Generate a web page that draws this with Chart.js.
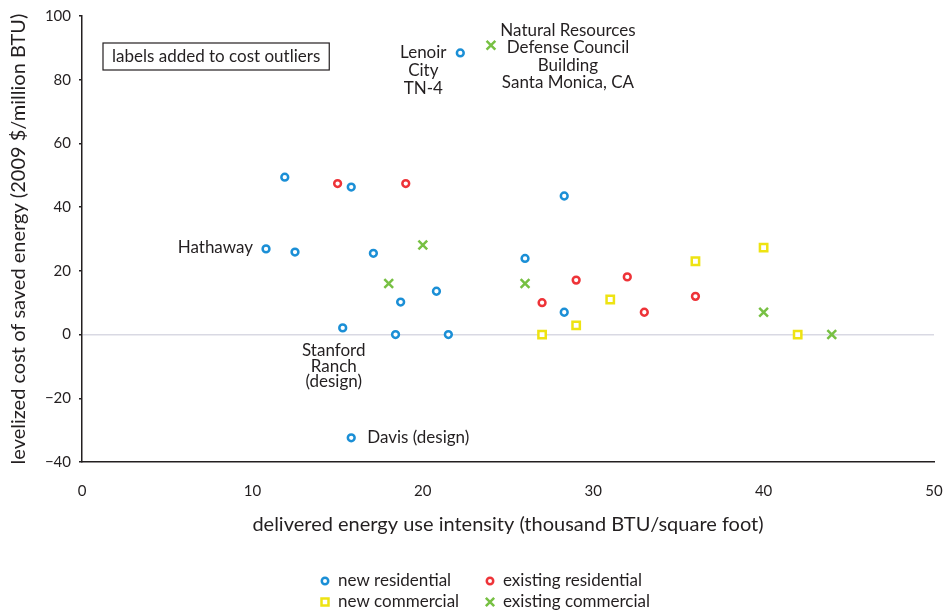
<!DOCTYPE html>
<html>
<head>
<meta charset="utf-8">
<script src="https://cdn.jsdelivr.net/npm/chart.js@4.4.1/dist/chart.umd.min.js"></script>
<style>
  html, body { margin: 0; padding: 0; background: #ffffff; }
  #wrap { position: relative; width: 944px; height: 611px; }
</style>
</head>
<body>
<div id="wrap"><canvas id="c" width="944" height="611"></canvas></div>
<script>
// ---- data ----
const seriesNames = ["new residential", "existing residential", "new commercial", "existing commercial"];

const newResidentialX = [22.2, 11.9, 15.8, 28.3, 10.8, 12.5, 17.1, 26.0, 20.8, 18.7, 15.3, 18.4, 21.5, 28.3, 15.8];
const newResidentialY = [88.4, 49.4, 46.3, 43.5, 26.9, 25.9, 25.5, 23.9, 13.6, 10.2, 2.1, 0, 0, 7.0, -32.4];

const existingResidentialX = [15.0, 19.0, 29.0, 32.0, 27.0, 33.0, 36.0];
const existingResidentialY = [47.4, 47.4, 17.1, 18.1, 10.0, 7.0, 12.0];

const newCommercialX = [36, 40, 31, 27, 29, 42];
const newCommercialY = [23.0, 27.3, 11.0, 0, 2.9, 0];

const existingCommercialX = [24, 20, 18, 26, 40, 44];
const existingCommercialY = [90.8, 28.1, 16.0, 16.0, 7.0, 0];

const xTicks = [0, 10, 20, 30, 40, 50];
const yTicks = [-40, -20, 0, 20, 40, 60, 80, 100];

const xTitle = "delivered energy use intensity (thousand BTU/square foot)";
const yTitle = "levelized cost of saved energy (2009 $/million BTU)";
const noteBoxText = "labels added to cost outliers";

// outlier labels: which series / point, and the text lines
const outlierSeries = [3, 0, 0, 0, 0];
const outlierIndex  = [0, 0, 4, 10, 14];
const outlierText = [
  ["Natural Resources", "Defense Council", "Building", "Santa Monica, CA"],
  ["Lenoir", "City", "TN-4"],
  ["Hathaway"],
  ["Stanford", "Ranch", "(design)"],
  ["Davis (design)"]
];

// ---- styling (not data) ----
const FONT = "Lato";
const TEXT = "#231f20";
const colors = ["#1b8fd6", "#ee3338", "#eee312", "#77c043"];
const styles = ["circle", "circle", "rect", "crossRot"];
const radii = [3.4, 3.4, 5.2, 6.2];
// label placement relative to its point: [dx, dy, align, lineHeight]
const outlierPlace = [
  [77, -15, "center", 17.5],
  [-37, 0, "center", 18],
  [-13, -1, "right", 18],
  [-9, 23, "center", 15.5],
  [16, 0, "left", 18]
];

function pts(xs, ys) { return xs.map((x, i) => ({ x: x, y: ys[i] })); }
const seriesData = [
  pts(newResidentialX, newResidentialY),
  pts(existingResidentialX, existingResidentialY),
  pts(newCommercialX, newCommercialY),
  pts(existingCommercialX, existingCommercialY)
];

const datasets = seriesData.map((d, i) => ({
  label: seriesNames[i],
  data: d,
  pointStyle: styles[i],
  pointRadius: radii[i],
  pointHoverRadius: radii[i],
  borderColor: colors[i],
  backgroundColor: "#ffffff",
  pointBorderWidth: 2.5,
  borderWidth: 2.5
}));

const annotationPlugin = {
  id: "annotations",
  afterDatasetsDraw(chart) {
    const ctx = chart.ctx;
    const xs = chart.scales.x, ys = chart.scales.y;
    ctx.save();
    ctx.fillStyle = TEXT;
    ctx.font = "17px " + FONT;
    ctx.textBaseline = "middle";
    outlierText.forEach((lines, k) => {
      const p = seriesData[outlierSeries[k]][outlierIndex[k]];
      const px = xs.getPixelForValue(p.x), py = ys.getPixelForValue(p.y);
      const [dx, dy, align, lh] = outlierPlace[k];
      ctx.textAlign = align;
      lines.forEach((t, j) => ctx.fillText(t, px + dx, py + dy + j * lh));
    });
    // note box
    ctx.font = "17px " + FONT;
    ctx.textAlign = "left";
    const bx = chart.chartArea.left + 21, by = chart.chartArea.top + 27;
    const tw = ctx.measureText(noteBoxText).width;
    ctx.strokeStyle = "#231f20";
    ctx.lineWidth = 1.2;
    ctx.strokeRect(bx, by, tw + 18, 27);
    ctx.fillText(noteBoxText, bx + 9, by + 14);
    ctx.restore();
  },
  afterDraw(chart) {
    // two-column legend below the x-axis title
    const ctx = chart.ctx;
    const cx = chart.width / 2;
    const colX = [cx - 147, cx + 18];
    const rowY = [581, 602];
    const order = [0, 1, 2, 3];
    ctx.save();
    ctx.font = "17px " + FONT;
    ctx.textBaseline = "middle";
    ctx.textAlign = "left";
    order.forEach((si, k) => {
      const x = colX[k % 2], y = rowY[Math.floor(k / 2)];
      ctx.strokeStyle = colors[si];
      ctx.fillStyle = "#ffffff";
      ctx.lineWidth = 2.5;
      Chart.helpers.drawPoint(ctx, { pointStyle: styles[si], radius: radii[si] * 0.95, rotation: 0, borderWidth: 2.5 }, x, y);
      ctx.fillStyle = TEXT;
      ctx.fillText(seriesNames[si], x + 13, y);
    });
    ctx.restore();
  }
};

new Chart(document.getElementById("c"), {
  type: "scatter",
  data: { datasets: datasets },
  options: {
    responsive: false,
    animation: false,
    layout: { padding: { top: 16, right: 10, left: 0, bottom: 0 } },
    plugins: {
      legend: { display: false },
      tooltip: { enabled: false }
    },
    scales: {
      x: {
        type: "linear",
        min: 0, max: 50,
        afterBuildTicks: s => { s.ticks = xTicks.map(v => ({ value: v })); },
        afterFit: s => { s.height = 149; s.paddingLeft = 0; s.paddingRight = 0; },
        grid: { display: false },
        border: { display: true, color: "#231f20", width: 1.5 },
        ticks: { font: { family: FONT, size: 15 }, color: TEXT, padding: 12 },
        title: { display: true, text: xTitle, font: { family: FONT, size: 20 }, color: TEXT, padding: { top: 0, bottom: 74 } }
      },
      y: {
        type: "linear",
        min: -40, max: 100,
        afterBuildTicks: s => { s.ticks = yTicks.map(v => ({ value: v })); },
        afterFit: s => { s.width = 82; s.paddingTop = 0; s.paddingBottom = 0; },
        grid: {
          drawOnChartArea: true,
          drawTicks: true,
          tickLength: 3,
          tickColor: "#231f20",
          color: c => (c.tick && c.tick.value === 0) ? "#d9d9e3" : "rgba(0,0,0,0)",
          lineWidth: 1.5
        },
        border: { display: true, color: "#231f20", width: 1.5 },
        ticks: {
          font: { family: FONT, size: 15 }, color: TEXT, padding: 8,
          callback: v => (v < 0 ? "\u2212" + Math.abs(v) : String(v))
        },
        title: { display: true, text: yTitle, font: { family: FONT, size: 20 }, color: TEXT, padding: { top: 7, bottom: 0 } }
      }
    }
  },
  plugins: [annotationPlugin]
});
</script>
</body>
</html>
